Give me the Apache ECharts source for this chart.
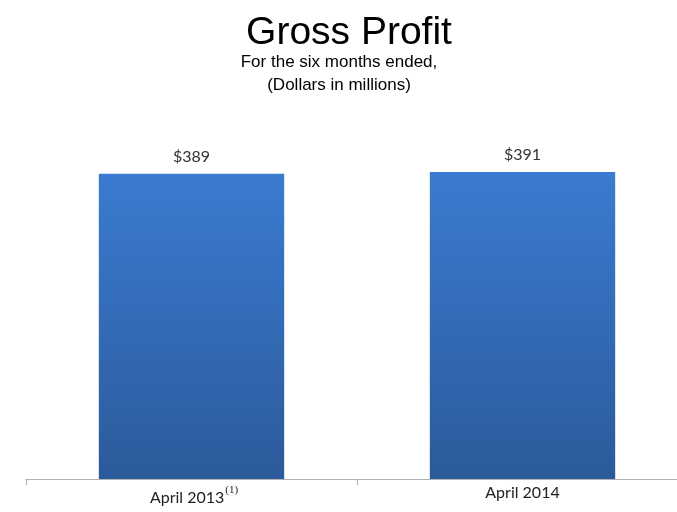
<!DOCTYPE html>
<html>
<head>
<meta charset="utf-8">
<script src="https://cdn.jsdelivr.net/npm/echarts@6/dist/echarts.min.js"></script>
<style>
  html, body { margin: 0; padding: 0; background: #fff; }
  #chart { width: 677px; height: 512px; }
</style>
</head>
<body>
<div id="chart"></div>
<script>
// Gross profit for the six months ended April, in millions of dollars
const categories = ['April 2013', 'April 2014'];
const footnotes = ['(1)', ''];
const grossProfit = [389, 391];

const chart = echarts.init(document.getElementById('chart'));

chart.setOption({
  backgroundColor: '#ffffff',
  animation: false,
  title: [
    {
      text: 'Gross Profit',
      left: 344,
      textAlign: 'center',
      top: 9,
      textStyle: { fontFamily: 'Liberation Sans, Arial', fontSize: 39, fontWeight: 'normal', color: '#000' }
    },
    {
      text: 'For the six months ended,\n(Dollars in millions)',
      left: 334,
      textAlign: 'center',
      top: 46,
      textStyle: { fontFamily: 'Liberation Sans, Arial', fontSize: 17, fontWeight: 'normal', color: '#000', lineHeight: 23 }
    }
  ],
  grid: { left: 26, width: 662, top: 165, bottom: 33, containLabel: false, outerBoundsMode: 'none' },
  xAxis: {
    type: 'category',
    data: categories,
    axisLine: { lineStyle: { color: '#b0b0b0', width: 1 } },
    axisTick: { show: true, length: 6, lineStyle: { color: '#b0b0b0' } },
    axisLabel: {
      margin: 6,
      fontFamily: 'Lato, Open Sans, sans-serif',
      fontSize: 16,
      color: '#222',
      formatter: function (v, i) {
        const fn = footnotes[i];
        // the footnote marker hangs to the right of the name
        return fn ? '{pad|}' + v + '{sup|' + fn + '}' : v;
      },
      rich: {
        pad: { width: 5 },
        sup: { fontFamily: 'Liberation Serif, serif', fontSize: 11, color: '#222', verticalAlign: 'bottom', padding: [0, 0, 15, 1] }
      }
    }
  },
  yAxis: {
    type: 'value',
    min: 0,
    max: 400,
    show: false
  },
  series: [{
    type: 'bar',
    data: grossProfit,
    barCategoryGap: '44%',
    itemStyle: {
      color: new echarts.graphic.LinearGradient(0, 0, 0, 1, [
        { offset: 0, color: '#3a7bd1' },
        { offset: 1, color: '#2c5a9a' }
      ])
    },
    label: {
      show: true,
      position: 'top',
      distance: 9,
      fontFamily: 'Lato, Open Sans, sans-serif',
      fontSize: 16,
      color: '#333',
      formatter: function (p) { return '$' + p.value; }
    }
  }]
});
</script>
</body>
</html>
